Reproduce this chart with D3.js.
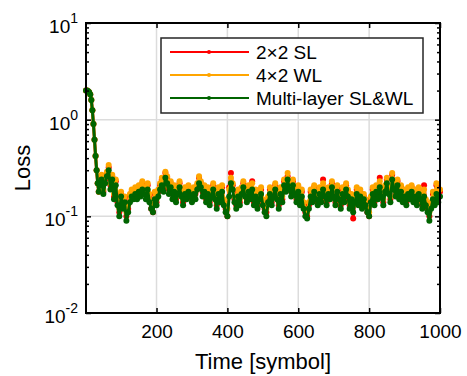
<!DOCTYPE html>
<html>
<head>
<meta charset="utf-8">
<script src="https://cdn.jsdelivr.net/npm/d3@7"></script>
<style>
  body { margin: 0; background: #fff; }
  text { font-family: "Liberation Sans", Arial, sans-serif; fill: #000; }
</style>
</head>
<body>
<div id="chart"></div>
<script>
// time axis: fast warm-up samples, then every 5 symbols
const warmupTime = d3.range(1, 41, 3);
const mainTime = d3.range(45, 1001, 5);

// shared warm-up part (all three curves coincide here)
const warmup = [2.0, 2.0, 1.97, 1.92, 1.82, 1.6, 1.25, 0.9, 0.62, 0.42, 0.3, 0.22, 0.18, 0.21];

const red = [
  0.26, 0.18, 0.24, 0.28, 0.32, 0.21, 0.26, 0.16, 0.23, 0.14, 0.11, 0.17,
  0.13, 0.15, 0.10, 0.12, 0.16, 0.18, 0.17, 0.19, 0.17, 0.20, 0.18, 0.22, 0.19, 0.17, 0.21, 0.16, 0.12, 0.11, 0.17, 0.14,
  0.18, 0.21, 0.24, 0.20, 0.28, 0.25, 0.19, 0.22, 0.17, 0.20, 0.15, 0.19, 0.22, 0.18, 0.14, 0.19, 0.17, 0.20, 0.18, 0.15,
  0.19, 0.17, 0.21, 0.25, 0.22, 0.18, 0.20, 0.15, 0.19, 0.14, 0.18, 0.21, 0.17, 0.13, 0.19, 0.15, 0.20, 0.14, 0.12, 0.10,
  0.20, 0.28, 0.21, 0.15, 0.13, 0.18, 0.14, 0.19, 0.22, 0.18, 0.15, 0.20, 0.17, 0.23, 0.14, 0.18, 0.13, 0.17, 0.19, 0.14,
  0.12, 0.11, 0.15, 0.19, 0.14, 0.18, 0.21, 0.17, 0.13, 0.19, 0.15, 0.23, 0.20, 0.26, 0.21, 0.18, 0.23, 0.19, 0.15, 0.20,
  0.14, 0.18, 0.13, 0.11, 0.10, 0.13, 0.18, 0.15, 0.20, 0.17, 0.14, 0.19, 0.15, 0.24, 0.18, 0.14, 0.19, 0.16, 0.22, 0.18,
  0.14, 0.20, 0.16, 0.13, 0.19, 0.15, 0.21, 0.18, 0.13, 0.16, 0.095, 0.15, 0.19, 0.14, 0.18, 0.13, 0.16, 0.14, 0.11, 0.10,
  0.15, 0.19, 0.14, 0.20, 0.17, 0.25, 0.18, 0.14, 0.20, 0.24, 0.19, 0.15, 0.27, 0.21, 0.17, 0.23, 0.16, 0.20, 0.15, 0.18,
  0.14, 0.19, 0.16, 0.20, 0.15, 0.18, 0.14, 0.19, 0.16, 0.13, 0.21, 0.14, 0.12, 0.10, 0.13, 0.17, 0.14, 0.21, 0.16, 0.18
];

const orange = [
  0.27, 0.19, 0.25, 0.29, 0.34, 0.22, 0.27, 0.17, 0.24, 0.15, 0.12, 0.18,
  0.14, 0.16, 0.11, 0.13, 0.17, 0.19, 0.18, 0.20, 0.18, 0.21, 0.19, 0.23, 0.20, 0.18, 0.22, 0.17, 0.14, 0.13, 0.18, 0.15,
  0.19, 0.22, 0.25, 0.21, 0.29, 0.26, 0.20, 0.23, 0.18, 0.21, 0.16, 0.20, 0.23, 0.19, 0.15, 0.20, 0.18, 0.21, 0.19, 0.16,
  0.20, 0.18, 0.22, 0.26, 0.23, 0.19, 0.21, 0.16, 0.20, 0.15, 0.19, 0.22, 0.18, 0.14, 0.20, 0.16, 0.21, 0.15, 0.13, 0.12,
  0.19, 0.25, 0.22, 0.16, 0.14, 0.19, 0.15, 0.20, 0.23, 0.19, 0.16, 0.21, 0.18, 0.22, 0.15, 0.19, 0.14, 0.18, 0.20, 0.15,
  0.13, 0.12, 0.16, 0.20, 0.15, 0.19, 0.22, 0.18, 0.14, 0.20, 0.16, 0.24, 0.21, 0.28, 0.22, 0.19, 0.24, 0.20, 0.16, 0.21,
  0.15, 0.19, 0.14, 0.12, 0.11, 0.14, 0.19, 0.16, 0.21, 0.18, 0.15, 0.20, 0.16, 0.22, 0.19, 0.15, 0.20, 0.17, 0.23, 0.19,
  0.15, 0.21, 0.17, 0.14, 0.20, 0.16, 0.22, 0.19, 0.14, 0.17, 0.13, 0.16, 0.20, 0.15, 0.19, 0.14, 0.17, 0.15, 0.12, 0.11,
  0.16, 0.20, 0.15, 0.21, 0.18, 0.23, 0.19, 0.15, 0.21, 0.25, 0.20, 0.16, 0.28, 0.22, 0.18, 0.24, 0.17, 0.21, 0.16, 0.19,
  0.15, 0.20, 0.17, 0.21, 0.16, 0.19, 0.15, 0.20, 0.17, 0.14, 0.19, 0.15, 0.13, 0.11, 0.14, 0.18, 0.15, 0.22, 0.17, 0.19
];

const green = [
  0.24, 0.17, 0.22, 0.26, 0.30, 0.19, 0.24, 0.15, 0.21, 0.13, 0.10, 0.16,
  0.12, 0.14, 0.09, 0.11, 0.14, 0.16, 0.15, 0.17, 0.15, 0.18, 0.16, 0.19, 0.17, 0.15, 0.19, 0.14, 0.12, 0.11, 0.15, 0.13,
  0.16, 0.19, 0.21, 0.18, 0.25, 0.22, 0.17, 0.20, 0.15, 0.18, 0.14, 0.17, 0.20, 0.16, 0.13, 0.17, 0.15, 0.18, 0.16, 0.14,
  0.17, 0.15, 0.19, 0.22, 0.20, 0.16, 0.18, 0.14, 0.17, 0.13, 0.16, 0.19, 0.15, 0.12, 0.17, 0.14, 0.18, 0.13, 0.11, 0.10,
  0.16, 0.22, 0.19, 0.14, 0.12, 0.16, 0.13, 0.17, 0.20, 0.16, 0.14, 0.18, 0.15, 0.19, 0.13, 0.16, 0.12, 0.15, 0.17, 0.13,
  0.11, 0.10, 0.14, 0.17, 0.13, 0.16, 0.19, 0.15, 0.12, 0.17, 0.14, 0.21, 0.18, 0.24, 0.19, 0.16, 0.21, 0.17, 0.14, 0.18,
  0.13, 0.16, 0.12, 0.10, 0.095, 0.12, 0.16, 0.14, 0.18, 0.15, 0.13, 0.17, 0.14, 0.19, 0.16, 0.13, 0.17, 0.15, 0.20, 0.16,
  0.13, 0.18, 0.15, 0.12, 0.17, 0.14, 0.19, 0.16, 0.12, 0.15, 0.11, 0.14, 0.17, 0.13, 0.16, 0.12, 0.15, 0.13, 0.11, 0.10,
  0.14, 0.17, 0.13, 0.18, 0.15, 0.20, 0.16, 0.13, 0.18, 0.22, 0.17, 0.14, 0.24, 0.19, 0.16, 0.21, 0.15, 0.18, 0.14, 0.16,
  0.13, 0.17, 0.15, 0.18, 0.14, 0.16, 0.13, 0.17, 0.15, 0.12, 0.16, 0.13, 0.11, 0.09, 0.12, 0.15, 0.13, 0.17, 0.14, 0.16
];

const seriesNames = ["2\u00D72 SL", "4\u00D72 WL", "Multi-layer SL&WL"];
const seriesColors = ["#ff0000", "#ffa500", "#006400"];
const xTicks = [200, 400, 600, 800, 1000];
const yTicks = [1e-2, 1e-1, 1e0, 1e1];

const width = 467, height = 376;
const margin = {left: 86, right: 27, top: 23, bottom: 63};

const svg = d3.select("#chart").append("svg")
  .attr("width", width).attr("height", height);

const x = d3.scaleLinear().domain([1, 1000]).range([margin.left, width - margin.right]);
const y = d3.scaleLog().domain([1e-2, 1e1]).range([height - margin.bottom, margin.top]);

const x0 = x.range()[0], x1 = x.range()[1];
const y0 = y.range()[0], y1 = y.range()[1];

// grid
const grid = svg.append("g").attr("stroke", "#dcdcdc").attr("stroke-width", 1.5);
xTicks.forEach(t => grid.append("line").attr("x1", x(t)).attr("x2", x(t)).attr("y1", y0).attr("y2", y1));
yTicks.forEach(t => grid.append("line").attr("x1", x0).attr("x2", x1).attr("y1", y(t)).attr("y2", y(t)));

// series
const time = warmupTime.concat(mainTime);
const allSeries = [red, orange, green].map((vals, i) => ({
  name: seriesNames[i],
  color: seriesColors[i],
  points: time.map((t, j) => [t, warmup.concat(vals)[j]])
}));

const line = d3.line().x(d => x(d[0])).y(d => y(d[1]));
const plot = svg.append("g");
allSeries.forEach(s => {
  const g = plot.append("g");
  g.append("path").datum(s.points)
    .attr("fill", "none").attr("stroke", s.color).attr("stroke-width", 3)
    .attr("stroke-linejoin", "round").attr("d", line);
  g.selectAll("circle").data(s.points).join("circle")
    .attr("cx", d => x(d[0])).attr("cy", d => y(d[1]))
    .attr("r", 3).attr("fill", s.color);
});

// axes (box with inward ticks)
const tickSize = 5;
const axisBottom = d3.axisBottom(x).tickValues(xTicks).tickSizeInner(-tickSize).tickSizeOuter(0)
  .tickPadding(12).tickFormat(d3.format("d"));
const axisTop = d3.axisTop(x).tickValues(xTicks).tickSizeInner(-tickSize).tickSizeOuter(0).tickFormat("");
const minorY = [];
for (let e = -2; e < 1; e++) for (let m = 2; m <= 9; m++) minorY.push(m * Math.pow(10, e));
const axisLeft = d3.axisLeft(y).tickValues(yTicks).tickSizeInner(-tickSize).tickSizeOuter(0).tickFormat("");
const axisRight = d3.axisRight(y).tickValues(yTicks).tickSizeInner(-tickSize).tickSizeOuter(0).tickFormat("");
const minorLeft = d3.axisLeft(y).tickValues(minorY).tickSizeInner(-3).tickSizeOuter(0).tickFormat("");
const minorRight = d3.axisRight(y).tickValues(minorY).tickSizeInner(-3).tickSizeOuter(0).tickFormat("");

function styleAxis(g) {
  g.select(".domain").remove();
  g.selectAll(".tick line").attr("stroke", "#000").attr("stroke-width", 1.5);
  g.selectAll(".tick text").attr("font-size", 19).attr("fill", "#000")
    .attr("font-family", "'Liberation Sans', Arial, sans-serif");
}

svg.append("g").attr("transform", `translate(0,${y0})`).call(axisBottom).call(styleAxis);
svg.append("g").attr("transform", `translate(0,${y1})`).call(axisTop).call(styleAxis);
svg.append("g").attr("transform", `translate(${x0},0)`).call(axisLeft).call(styleAxis);
svg.append("g").attr("transform", `translate(${x1},0)`).call(axisRight).call(styleAxis);
svg.append("g").attr("transform", `translate(${x0},0)`).call(minorLeft).call(styleAxis);
svg.append("g").attr("transform", `translate(${x1},0)`).call(minorRight).call(styleAxis);

// y tick labels as 10^n
yTicks.forEach(t => {
  const e = Math.round(Math.log10(t));
  const lbl = svg.append("text").attr("x", x0 - 8).attr("y", y(t) + 10)
    .attr("text-anchor", "end").attr("font-size", 19);
  lbl.append("tspan").text("10");
  lbl.append("tspan").attr("dy", -10).attr("font-size", 14).text(String(e));
});

// box
svg.append("rect").attr("x", x0).attr("y", y1).attr("width", x1 - x0).attr("height", y0 - y1)
  .attr("fill", "none").attr("stroke", "#000").attr("stroke-width", 2);

// axis titles
svg.append("text").attr("x", (x0 + x1) / 2).attr("y", 369).attr("text-anchor", "middle")
  .attr("font-size", 22).text("Time [symbol]");
svg.append("text").attr("transform", `translate(30,${(y0 + y1) / 2}) rotate(-90)`)
  .attr("text-anchor", "middle").attr("font-size", 22).text("Loss");

// legend
const legend = svg.append("g");
legend.append("rect").attr("x", 161).attr("y", 38).attr("width", 262).attr("height", 75)
  .attr("fill", "#fff").attr("stroke", "#262626").attr("stroke-width", 1.5);
allSeries.forEach((s, i) => {
  const ly = 52 + i * 23;
  legend.append("line").attr("x1", 170).attr("x2", 249).attr("y1", ly).attr("y2", ly)
    .attr("stroke", s.color).attr("stroke-width", 2.2);
  legend.append("circle").attr("cx", 209).attr("cy", ly).attr("r", 2).attr("fill", s.color);
  legend.append("text").attr("x", 256).attr("y", ly + 7).attr("font-size", 19).text(s.name);
});
</script>
</body>
</html>
